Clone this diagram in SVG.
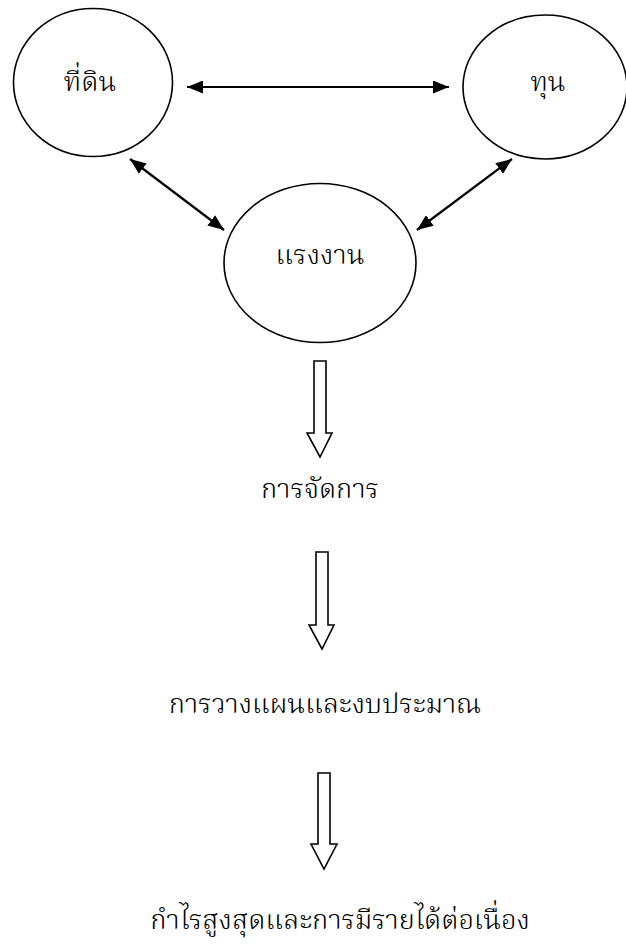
<svg xmlns="http://www.w3.org/2000/svg" width="626" height="944" viewBox="0 0 626 944">
<style>
.node{fill:#fff;stroke:#000;stroke-width:1.6}
.lbl{font-family:"Noto Serif Thai","Norasi","Kinnari","Liberation Serif","Noto Sans Thai",serif;font-size:27.5px;font-weight:300;fill:#000;text-anchor:middle}
.dbl{stroke:#000;stroke-width:2.2;fill:none;marker-start:url(#ah);marker-end:url(#ah)}
.hollow{fill:#fff;stroke:#000;stroke-width:1.6;stroke-linejoin:miter}
</style>
<defs>
<marker id="ah" viewBox="0 0 16 13" refX="16" refY="6.5" markerWidth="16" markerHeight="13" markerUnits="userSpaceOnUse" orient="auto-start-reverse">
<path d="M0,0 L16,6.5 L0,13 Z" fill="#000"/>
</marker>
</defs>
<rect width="626" height="944" fill="#fff"/>
<g id="connectors">
<line class="dbl" x1="187" y1="87" x2="449" y2="87"/>
<line class="dbl" x1="130" y1="159" x2="224" y2="230"/>
<line class="dbl" x1="512" y1="159" x2="417" y2="230"/>
<path class="hollow" d="M314,361 H326 V433 H332 L320,457 L307,433 H314 Z"/>
<path class="hollow" d="M316,552 H328 V625 H334 L322,649 L309,625 H316 Z"/>
<path class="hollow" d="M318,773 H330 V844 H337 L324,869 L311,844 H318 Z"/>
</g>
<g id="node-land">
<ellipse class="node" cx="93" cy="82.5" rx="79.5" ry="74"/>
<text class="lbl" x="90" y="91">ที่ดิน</text>
</g>
<g id="node-capital">
<ellipse class="node" cx="545" cy="87" rx="82" ry="72"/>
<text class="lbl" x="548" y="91">ทุน</text>
</g>
<g id="node-labour">
<ellipse class="node" cx="320" cy="263" rx="96" ry="79.5"/>
<text class="lbl" x="320" y="264">แรงงาน</text>
</g>
<g id="node-management">
<text class="lbl" x="320" y="498">การจัดการ</text>
</g>
<g id="node-planning">
<text class="lbl" x="325" y="713">การวางแผนและงบประมาณ</text>
</g>
<g id="node-profit">
<text class="lbl" x="340" y="929">กำไรสูงสุดและการมีรายได้ต่อเนื่อง</text>
</g>
</svg>
